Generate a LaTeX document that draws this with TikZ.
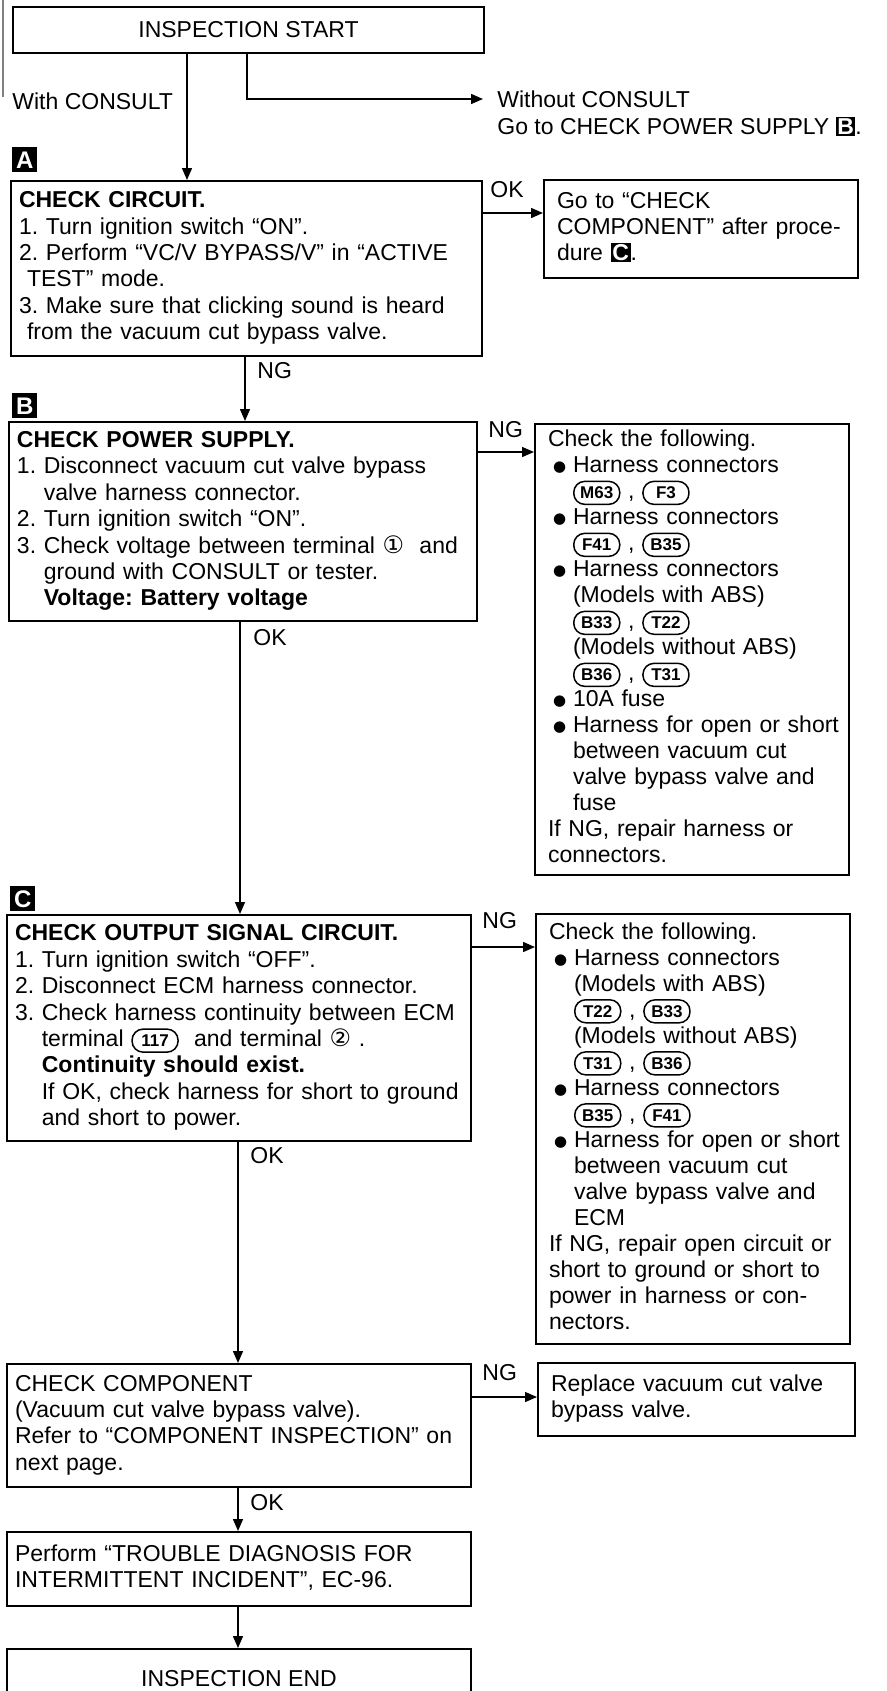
\documentclass[tikz,border=0pt]{standalone}
\usepackage{fontspec}
\setmainfont{Liberation Sans}
\newfontfamily\symfont{DejaVu Sans}
\usetikzlibrary{arrows.meta,calc}
\frenchspacing

% text helpers
\newcommand{\rows}[1]{\begin{tabular}[t]{@{}l@{}}#1\end{tabular}}
\newcommand{\circnum}[1]{{\symfont\fontsize{12}{12}\selectfont #1}}
\newcommand{\mk}[1]{{\setlength{\fboxsep}{0.8pt}\colorbox{black}{\textcolor{white}{\bfseries #1}}}}
\newcommand{\bul}{\hspace*{2.5pt}\makebox[10pt][l]{\raisebox{0.6pt}{\symfont\fontsize{7.5}{7.5}\selectfont ●}}}
\newcommand{\ind}{\hspace*{12.5pt}}
\newcommand{\hng}{\phantom{1.\ }}
\newcounter{cn}
\newcommand{\conn}[1]{\stepcounter{cn}\tikz[baseline=(cn\thecn.base)]\node[draw, line width=0.75pt, rounded corners=5.5pt, anchor=center, align=center, text width={}, inner xsep=1.5pt, inner ysep=0pt, minimum width=23pt, minimum height=11.5pt, font=\fontsize{8.5}{9}\selectfont\bfseries] (cn\thecn) {#1};}

\begin{document}
\begin{tikzpicture}[
  x=0.5pt, y=-0.5pt,
  font=\fontsize{11.5}{13.2}\selectfont,
  stepbox/.style={draw, line width=1pt, anchor=north west, align=left, inner xsep=4pt, inner ysep=2pt},
  sidebox/.style={stepbox, inner xsep=6.5pt, font=\fontsize{11.5}{13}\selectfont},
  tagbox/.style={fill=black, text=white, anchor=north west, minimum width=12.5pt, minimum height=12.5pt, inner sep=0pt, font=\fontsize{12}{12}\selectfont\bfseries},
  lbl/.style={anchor=base west, inner sep=0pt},
  arr/.style={-{Triangle[length=6pt,width=5pt]}, line width=0.7pt},
]
\useasboundingbox (0,0) rectangle (887,1691);
\draw[gray, line width=0.6pt] (3,0) -- (3,97);

% start
\node[stepbox, align=center, minimum width=235.5pt, minimum height=23pt] (start) at (12,6) {INSPECTION START};
\node[lbl] (withc) at (12,110) {With CONSULT};
\node[lbl, inner xsep=7pt] (nocons) at (483,108) {\rows{Without CONSULT\\Go to CHECK POWER SUPPLY \mk{B}.}};
\coordinate (bend) at (247,99);
\draw[arr] (start.south -| bend) |- (nocons.west |- bend);

% A
\node[tagbox] (tagA) at (12,147) {A};
\node[stepbox, text width=227.5pt, minimum height=87.5pt] (chkA) at (10,180) {\rows{\textbf{CHECK CIRCUIT.}\\
1. Turn ignition switch “ON”.\\
2. Perform “VC/V BYPASS/V” in “ACTIVE\\
\hspace*{4pt}TEST” mode.\\
3. Make sure that clicking sound is heard\\
\hspace*{4pt}from the vacuum cut bypass valve.}};
\coordinate (xa) at (187,0);
\draw[arr] (start.south -| xa) -- (chkA.north -| xa);
\node[sidebox, text width=144pt, minimum height=49pt] (okA) at (543,179) {\rows{Go to “CHECK\\COMPONENT” after proce-\\dure \mk{C}.}};
\coordinate (ya) at (0,213);
\draw[arr] (chkA.east |- ya) -- (okA.west |- ya);
\node[lbl] (okA-l) at (490,197) {OK};

% B
\node[tagbox] (tagB) at (12,393) {B};
\node[stepbox, text width=226pt, minimum height=99.5pt] (chkB) at (8,421) {\rows{\textbf{CHECK POWER SUPPLY.}\\
1. Disconnect vacuum cut valve bypass\\
\hng valve harness connector.\\
2. Turn ignition switch “ON”.\\
3. Check voltage between terminal \circnum{①}\ \ and\\
\hng ground with CONSULT or tester.\\
\hng\textbf{Voltage: Battery voltage}}};
\coordinate (xb) at (245,0);
\draw[arr] (chkA.south -| xb) -- (chkB.north -| xb);
\node[lbl] (chkA-l) at (257,378) {NG};
\node[sidebox, text width=144pt, minimum height=225.5pt] (ngB) at (534,423) {\rows{Check the following.\\
\bul Harness connectors\\
\ind\conn{M63} , \conn{F3}\\
\bul Harness connectors\\
\ind\conn{F41} , \conn{B35}\\
\bul Harness connectors\\
\ind(Models with ABS)\\
\ind\conn{B33} , \conn{T22}\\
\ind(Models without ABS)\\
\ind\conn{B36} , \conn{T31}\\
\bul 10A fuse\\
\bul Harness for open or short\\
\ind between vacuum cut\\
\ind valve bypass valve and\\
\ind fuse\\
If NG, repair harness or\\
connectors.}};
\coordinate (yb) at (0,452);
\draw[arr] (chkB.east |- yb) -- (ngB.west |- yb);
\node[lbl] (ngB-l) at (488,437) {NG};

% C
\node[tagbox] (tagC) at (10,886) {C};
\node[stepbox, text width=224pt, minimum height=113pt] (chkC) at (6,914) {\rows{\textbf{CHECK OUTPUT SIGNAL CIRCUIT.}\\
1. Turn ignition switch “OFF”.\\
2. Disconnect ECM harness connector.\\
3. Check harness continuity between ECM\\
\hng terminal \conn{117}\ \ and terminal \circnum{②}\ .\\
\hng\textbf{Continuity should exist.}\\
\hng If OK, check harness for short to ground\\
\hng and short to power.}};
\coordinate (xc) at (240,0);
\draw[arr] (chkB.south -| xc) -- (chkC.north -| xc);
\node[lbl] (chkB-l) at (253,645) {OK};
\node[sidebox, text width=144pt, minimum height=215pt] (ngC) at (535,913) {\rows{Check the following.\\
\bul Harness connectors\\
\ind(Models with ABS)\\
\ind\conn{T22} , \conn{B33}\\
\ind(Models without ABS)\\
\ind\conn{T31} , \conn{B36}\\
\bul Harness connectors\\
\ind\conn{B35} , \conn{F41}\\
\bul Harness for open or short\\
\ind between vacuum cut\\
\ind valve bypass valve and\\
\ind ECM\\
If NG, repair open circuit or\\
short to ground or short to\\
power in harness or con-\\
nectors.}};
\coordinate (yc) at (0,947);
\draw[arr] (chkC.east |- yc) -- (ngC.west |- yc);
\node[lbl] (ngC-l) at (482,928) {NG};

% component check
\node[stepbox, text width=224pt, minimum height=61.5pt] (comp) at (6,1363) {\rows{CHECK COMPONENT\\
(Vacuum cut valve bypass valve).\\
Refer to “COMPONENT INSPECTION” on\\
next page.}};
\coordinate (xd) at (238,0);
\draw[arr] (chkC.south -| xd) -- (comp.north -| xd);
\node[lbl] (chkC-l) at (250,1163) {OK};
\node[sidebox, text width=145.5pt, minimum height=36.5pt] (repl) at (537,1362) {\rows{Replace vacuum cut valve\\bypass valve.}};
\coordinate (yd) at (0,1397);
\draw[arr] (comp.east |- yd) -- (repl.west |- yd);
\node[lbl] (repl-l) at (482,1380) {NG};

% end
\node[stepbox, text width=224pt, minimum height=37pt] (perf) at (6,1531) {\rows{Perform “TROUBLE DIAGNOSIS FOR\\INTERMITTENT INCIDENT”, EC-96.}};
\draw[arr] (comp.south -| xd) -- (perf.north -| xd);
\node[lbl] (comp-l) at (250,1510) {OK};
\node[stepbox, align=center, minimum width=232pt, minimum height=30pt] (fin) at (6,1648) {INSPECTION END};
\draw[arr] (perf.south -| xd) -- (fin.north -| xd);
\end{tikzpicture}
\end{document}
